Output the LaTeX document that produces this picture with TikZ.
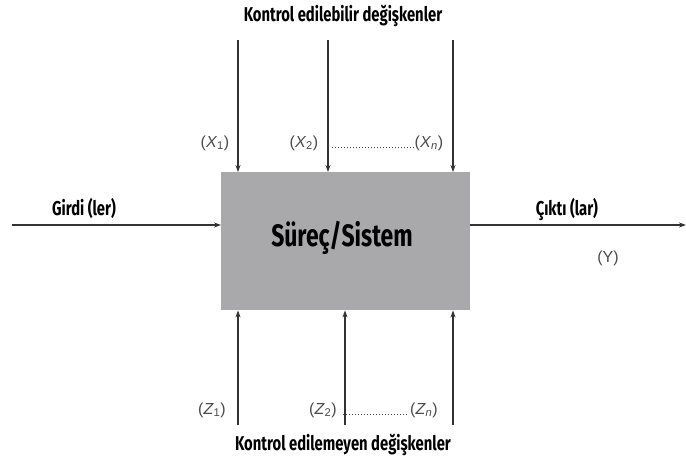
\documentclass[tikz,border=0pt]{standalone}
\usepackage{fontspec}
\setmainfont{Liberation Sans}
\newfontfamily\cond{Fira Sans}[FakeStretch=0.74]
\usetikzlibrary{arrows.meta}
\definecolor{boxgray}{HTML}{A9A9AB}
\definecolor{linegray}{HTML}{333333}
\definecolor{labgray}{HTML}{4A4A4A}
\begin{document}
\begin{tikzpicture}[x=1pt,y=-1pt,
  flow/.style={draw=linegray,line width=1.2pt,-{Stealth[length=7pt,width=5pt]}},
  head/.style={font=\cond\bfseries\fontsize{20}{20}\selectfont,text=black,inner sep=0pt},
  var/.style={font=\fontsize{16}{16}\selectfont,text=labgray,inner sep=0pt},
  dots/.style={draw=labgray,line width=1pt,dotted}]
\useasboundingbox (0,0) rectangle (686,466);
% process box
\node[draw=none,fill=boxgray,minimum width=249pt,minimum height=138pt,inner sep=0pt,anchor=north west] (sys) at (221,172) {};
\node[font=\cond\bfseries\fontsize{31}{31}\selectfont,inner sep=0pt] (syslab) at (342,238) {Süreç/Sistem};
% controllable inputs from above
\node[head] (top) at (343,16) {Kontrol edilebilir değişkenler};
\coordinate (t1) at (238,40);
\coordinate (t2) at (328,40);
\coordinate (t3) at (453,40);
\draw[flow] (t1) -- (t1 |- sys.north);
\draw[flow] (t2) -- (t2 |- sys.north);
\draw[flow] (t3) -- (t3 |- sys.north);
\node[var] (x1) at (215,143) {(\textit{X}\textsubscript{1})};
\node[var] (x2) at (304,143) {(\textit{X}\textsubscript{2})};
\node[var] (xn) at (429,143) {(\textit{X}\textsubscript{\textit{n}})};
\draw[dots] ([xshift=14pt]x2.east |- 0,147) -- ([xshift=-1pt]xn.west |- 0,147);
% uncontrollable inputs from below
\node[head] (bot) at (343,445) {Kontrol edilemeyen değişkenler};
\coordinate (b1) at (238,425);
\coordinate (b2) at (345,425);
\coordinate (b3) at (453,425);
\draw[flow] (b1) -- (b1 |- sys.south);
\draw[flow] (b2) -- (b2 |- sys.south);
\draw[flow] (b3) -- (b3 |- sys.south);
\node[var] (z1) at (212,410) {(\textit{Z}\textsubscript{1})};
\node[var] (z2) at (323,410) {(\textit{Z}\textsubscript{2})};
\node[var] (zn) at (424,410) {(\textit{Z}\textsubscript{\textit{n}})};
\draw[dots] ([xshift=6pt]z2.east |- 0,414) -- ([xshift=-1pt]zn.west |- 0,414);
% input and output
\coordinate (in) at (12,225);
\coordinate (out) at (686,225);
\draw[flow] (in) -- (in -| sys.west);
\draw[flow] (sys.east |- out) -- (out);
\node[head] (girdi) at (84,208) {Girdi (ler)};
\node[head] (cikti) at (567,210) {Çıktı (lar)};
\node[var] (y) at (608,258) {(Y)};
\end{tikzpicture}
\end{document}
